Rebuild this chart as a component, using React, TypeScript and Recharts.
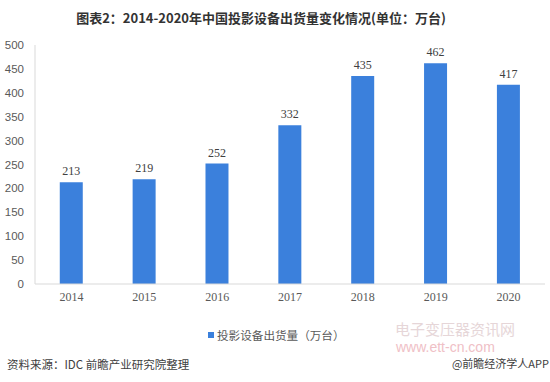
import React from "react";
import { BarChart, Bar, XAxis, YAxis, LabelList, Legend } from "recharts";

const years = ["2014", "2015", "2016", "2017", "2018", "2019", "2020"];
const shipments = [213, 219, 252, 332, 435, 462, 417];
const yTicks = [0, 50, 100, 150, 200, 250, 300, 350, 400, 450, 500];

const title = "图表2：2014-2020年中国投影设备出货量变化情况(单位：万台)";
const seriesName = "投影设备出货量（万台）";
const sourceText = "资料来源：IDC 前瞻产业研究院整理";
const creditText = "@前瞻经济学人APP";

const data = years.map((y, i) => ({ year: y, value: shipments[i] }));

const BAR_COLOR = "#3b80dc";
const CJK = "'Noto Sans CJK SC', 'Noto Sans', sans-serif";

const renderLegend = () => (
  <div
    style={{
      position: "absolute",
      left: 208,
      top: 0,
      display: "flex",
      alignItems: "center",
      fontFamily: CJK,
      fontSize: 11.6,
      lineHeight: "14px",
      color: "#595959",
      whiteSpace: "nowrap",
    }}
  >
    <span
      style={{
        display: "inline-block",
        width: 6,
        height: 6,
        background: BAR_COLOR,
        marginRight: 3,
      }}
    />
    <span>{seriesName}</span>
  </div>
);

export default function App() {
  return (
    <div
      style={{
        position: "absolute",
        left: 0,
        top: 0,
        width: 550,
        height: 382,
        background: "#ffffff",
        overflow: "hidden",
      }}
    >
      <div
        style={{
          position: "absolute",
          left: 0,
          width: 522,
          top: 8,
          textAlign: "center",
          fontFamily: CJK,
          fontWeight: 700,
          fontSize: 13,
          color: "#333333",
          whiteSpace: "nowrap",
        }}
      >
        {title}
      </div>
      <BarChart
        width={550}
        height={382}
        data={data}
        margin={{ top: 45, right: 5, left: 0, bottom: 54 }}
        barCategoryGap="34%"
      >
        <XAxis
          dataKey="year"
          height={30}
          tickLine={false}
          axisLine={{ stroke: "#d9d9d9" }}
          tick={{ fill: "#595959", fontSize: 12, fontFamily: "'Liberation Serif', serif" }}
        />
        <YAxis
          width={35}
          domain={[0, 500]}
          ticks={yTicks}
          interval={0}
          tickLine={false}
          axisLine={{ stroke: "#d9d9d9" }}
          tick={{ fill: "#595959", fontSize: 11.5, fontFamily: "'Liberation Sans', sans-serif", dx: -3 }}
        />
        <Legend
          verticalAlign="bottom"
          content={renderLegend}
          wrapperStyle={{ position: "absolute", top: 328, left: 0, width: 550, height: 14 }}
        />
        <Bar dataKey="value" name={seriesName} fill={BAR_COLOR} isAnimationActive={false}>
          <LabelList
            dataKey="value"
            position="top"
            offset={7}
            fill="#404040"
            fontSize={12}
            fontFamily="'Liberation Serif', serif"
          />
        </Bar>
      </BarChart>
      <div
        style={{
          position: "absolute",
          left: 395,
          top: 321,
          fontFamily: CJK,
          fontSize: 15,
          lineHeight: "16px",
          color: "#e6d6d8",
          whiteSpace: "nowrap",
        }}
      >
        电子变压器资讯网
      </div>
      <div
        style={{
          position: "absolute",
          left: 396,
          top: 340,
          fontFamily: "'Liberation Sans', sans-serif",
          fontSize: 14,
          lineHeight: "14px",
          color: "#efc0c6",
          whiteSpace: "nowrap",
        }}
      >
        www.ett-cn.com
      </div>
      <div
        style={{
          position: "absolute",
          left: 7,
          top: 357,
          fontFamily: CJK,
          fontSize: 11.5,
          lineHeight: "14px",
          color: "#404040",
          whiteSpace: "nowrap",
        }}
      >
        {sourceText}
      </div>
      <div
        style={{
          position: "absolute",
          right: 1,
          top: 357,
          fontFamily: CJK,
          fontSize: 11,
          lineHeight: "13px",
          color: "#404040",
          whiteSpace: "nowrap",
        }}
      >
        {creditText}
      </div>
    </div>
  );
}
